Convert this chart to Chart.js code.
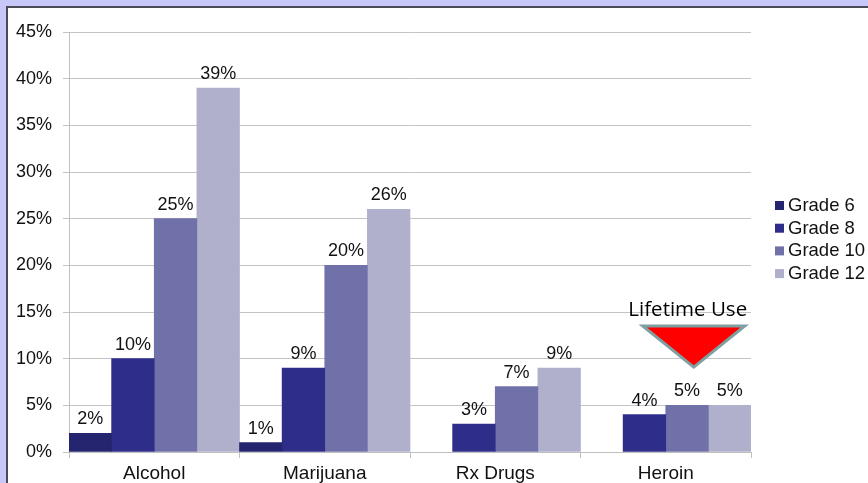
<!DOCTYPE html>
<html>
<head>
<meta charset="utf-8">
<script src="https://cdn.jsdelivr.net/npm/chart.js@4"></script>
<style>
  html, body { margin:0; padding:0; }
  body { width:868px; height:483px; background:#c8c8f8; overflow:hidden; position:relative; }
  #box { position:absolute; left:6px; top:6px; width:900px; height:520px; background:#fff; border:2px solid #4a4a58; }
  #wrap { position:absolute; left:0; top:0; width:860px; height:475px; }
</style>
</head>
<body>
<div id="box"><div id="wrap"><canvas id="chart"></canvas></div></div>
<script>

const categories = ["Alcohol", "Marijuana", "Rx Drugs", "Heroin"]
const seriesNames = ["Grade 6", "Grade 8", "Grade 10", "Grade 12"]
const grade6 = [2, 1, null, null]
const grade8 = [10, 9, 3, 4]
const grade10 = [25, 20, 7, 5]
const grade12 = [39, 26, 9, 5]
const colors = ["#25256f", "#2e2e8a", "#7171a9", "#b0b0cd"]

const font = "Liberation Sans, Arial, sans-serif"

// value labels, legend and the "Lifetime Use" callout
const extras = {
    id: "extras",
    afterDatasetsDraw(chart){
        const ctx = chart.ctx
        ctx.save()
        ctx.font = "18px " + font
        ctx.fillStyle = "#111"
        ctx.textAlign = "center"
        ctx.textBaseline = "alphabetic"
        chart.data.datasets.forEach((ds, i) => {
            chart.getDatasetMeta(i).data.forEach((bar, j) => {
                if(ds.data[j] == null) return
                ctx.fillText(ds.data[j] + "%", bar.x, bar.y - 9)
            })
        })

        // legend
        ctx.font = "18.5px " + font
        ctx.textAlign = "left"
        ctx.textBaseline = "middle"
        seriesNames.forEach((name, i) => {
            const y = 197 + i * 22.7
            ctx.fillStyle = colors[i]
            ctx.fillRect(767, y - 4, 9, 9)
            ctx.fillStyle = "#111"
            ctx.fillText(name, 780, y + 1)
        })

        // callout
        const xs = chart.scales.x
        const ys = chart.scales.y
        const cx = xs.getPixelForValue(3) + 28
        const top = ys.getPixelForValue(13.5)
        const tip = ys.getPixelForValue(9.1)
        ctx.beginPath()
        ctx.moveTo(cx - 51, top)
        ctx.lineTo(cx + 51, top)
        ctx.lineTo(cx, tip)
        ctx.closePath()
        ctx.fillStyle = "#ff0000"
        ctx.fill()
        ctx.lineWidth = 3
        ctx.strokeStyle = "#7fa0a0"
        ctx.lineJoin = "miter"
        ctx.stroke()

        ctx.font = "20.5px 'Open Sans', sans-serif"
        ctx.fillStyle = "#000"
        ctx.textAlign = "center"
        ctx.fillText("Lifetime Use", cx - 6, ys.getPixelForValue(15.2))
        ctx.restore()
    }
}

new Chart(document.getElementById("chart"), {
    type: "bar",
    data: {
        labels: categories,
        datasets: [grade6, grade8, grade10, grade12].map((d, i) => ({
            label: seriesNames[i],
            data: d,
            backgroundColor: colors[i],
            barPercentage: 1,
            categoryPercentage: 1,
            skipNull: false
        }))
    },
    options: {
        responsive: true,
        maintainAspectRatio: false,
        animation: false,
        layout: { padding: { left: 0, right: 117, top: 24, bottom: 0 } },
        plugins: { legend: { display: false }, tooltip: { enabled: false } },
        scales: {
            x: {
                grid: { display: true, drawOnChartArea: false, offset: true, color: "#bfbfbf", tickLength: 6 },
                border: { color: "#bfbfbf" },
                ticks: { color: "#111", font: { family: font, size: 19 }, padding: 4 },
                afterFit(scale){ scale.height = 31 }
            },
            y: {
                min: 0,
                max: 45,
                ticks: { stepSize: 5, color: "#111", font: { family: font, size: 18 }, padding: 11, callback: v => v + "%" },
                grid: { color: "#c4c4c4", tickLength: 6 },
                border: { color: "#bfbfbf" },
                afterFit(scale){ scale.width = 61 }
            }
        }
    },
    plugins: [extras]
})
</script>
</body>
</html>
